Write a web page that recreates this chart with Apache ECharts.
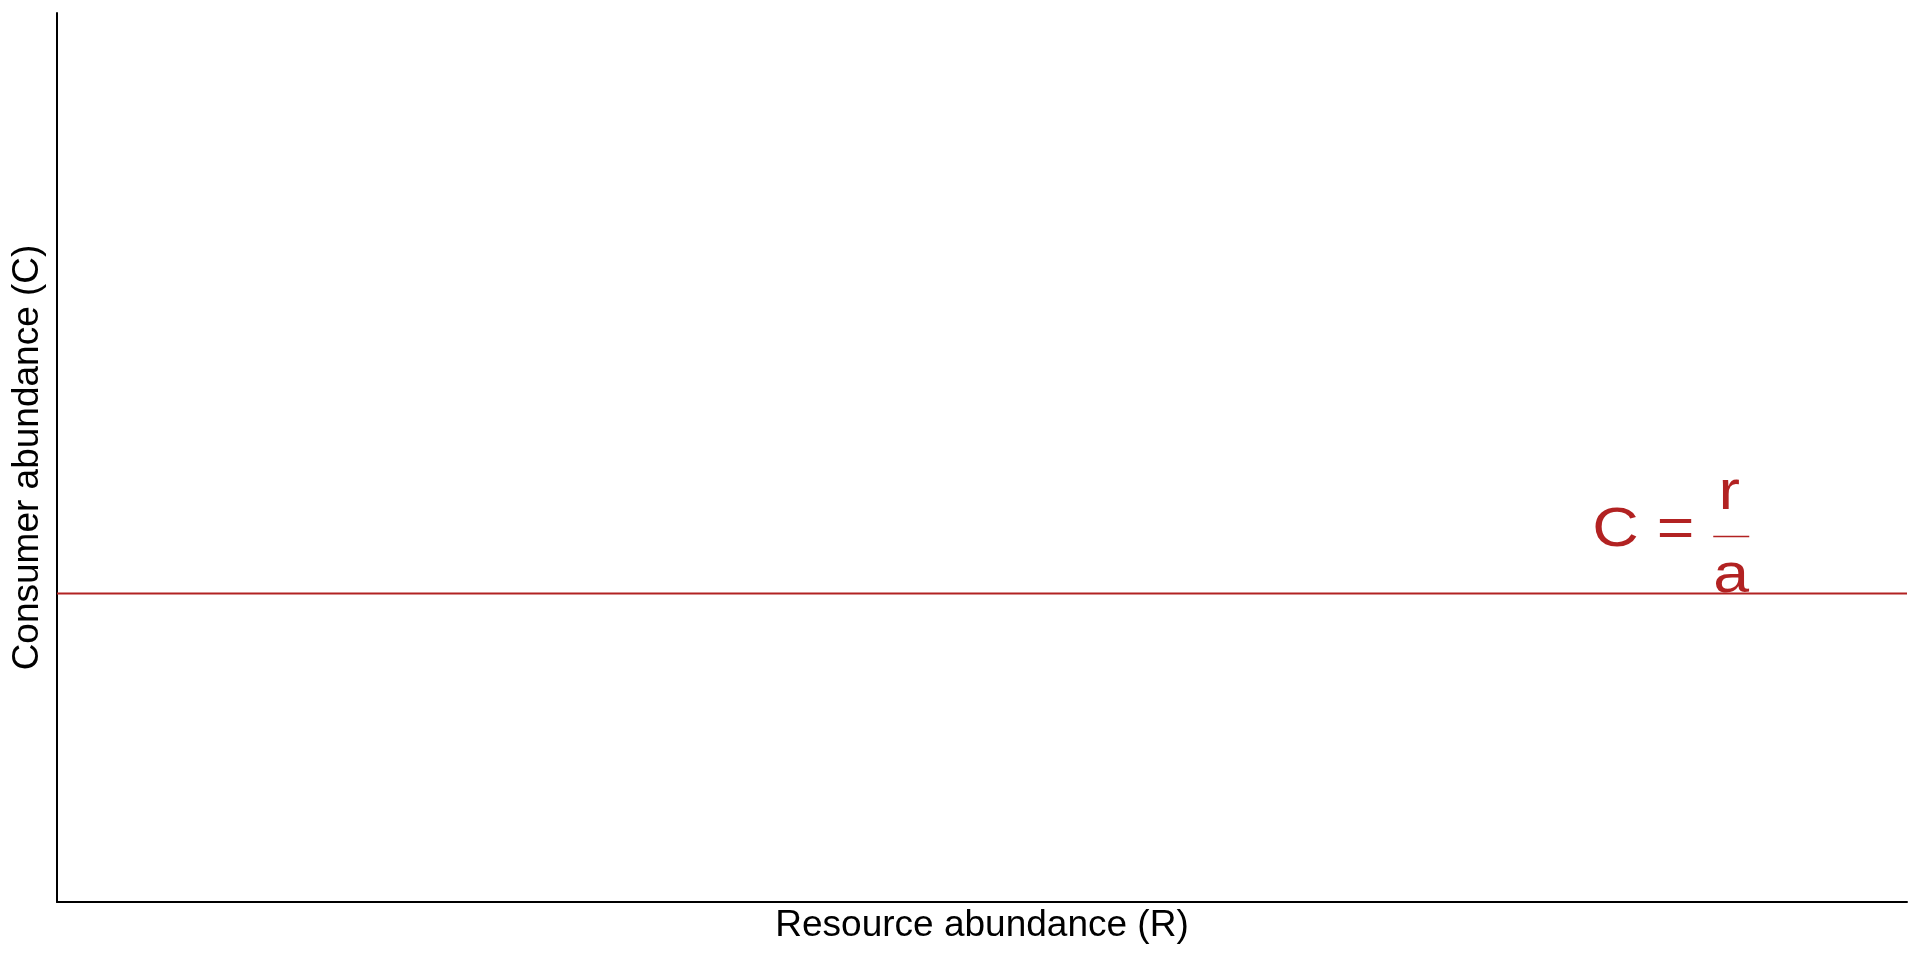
<!DOCTYPE html>
<html>
<head>
<meta charset="utf-8">
<script src="https://cdn.jsdelivr.net/npm/echarts@6/dist/echarts.min.js"></script>
<style>
html,body{margin:0;padding:0;background:#fff;}
#main{width:1920px;height:960px;}
</style>
</head>
<body>
<div id="main"></div>
<script>
// ---- data ----
const resourceExtent = [0, 1];          // R axis range (conceptual, no ticks)
const consumerExtent = [0, 1];          // C axis range (conceptual, no ticks)
const isoclineR = [0, 1];               // R values of the consumer isocline
const isoclineC = [0.347, 0.347];       // C = r/a (horizontal isocline)
const labelR = [0.905];                 // R position of the "C = r/a" label
const axisNames = ['Resource abundance (R)', 'Consumer abundance (C)'];
const labelParts = ['C =', 'r', 'a'];

const RED = '#B22222';
const FONT = '"Liberation Sans", Arial, Helvetica, sans-serif';

const chart = echarts.init(document.getElementById('main'), null, {renderer: 'canvas'});

const option = {
  animation: false,
  backgroundColor: '#ffffff',
  grid: {left: 57, right: 13, top: 13, bottom: 58, containLabel: false},
  xAxis: {
    type: 'value',
    min: resourceExtent[0], max: resourceExtent[1],
    name: axisNames[0],
    nameLocation: 'middle',
    nameGap: 5,
    nameTextStyle: {fontSize: 37, color: '#000', fontFamily: FONT, verticalAlign: 'top'},
    axisLine: {show: true, onZero: false, lineStyle: {color: '#000', width: 2}},
    axisTick: {show: false},
    axisLabel: {show: false},
    splitLine: {show: false}
  },
  yAxis: {
    type: 'value',
    min: consumerExtent[0], max: consumerExtent[1],
    name: axisNames[1],
    nameLocation: 'middle',
    nameGap: 11,
    nameTextStyle: {fontSize: 37, color: '#000', fontFamily: FONT},
    axisLine: {show: true, onZero: false, lineStyle: {color: '#000', width: 2}},
    axisTick: {show: false},
    axisLabel: {show: false},
    splitLine: {show: false}
  },
  series: [{
    type: 'line',
    data: isoclineR.map((r, i) => [r, isoclineC[i]]),
    showSymbol: false,
    symbol: 'none',
    clip: false,
    lineStyle: {color: RED, width: 2},
    z: 3
  }]
};
chart.setOption(option);

// label anchored at data coordinates of the isocline
const anchor = chart.convertToPixel({gridIndex: 0}, [labelR[0], isoclineC[0]]);
const ax = anchor[0], ay = anchor[1];
const sx = 1.15;
chart.setOption({
  graphic: [
    {type: 'text', x: ax - 88, y: ay - 63, scaleX: sx,
     style: {text: labelParts[0], fill: RED, font: '56px ' + FONT, align: 'center', verticalAlign: 'middle'}},
    {type: 'text', x: ax - 2, y: ay - 100, scaleX: sx,
     style: {text: labelParts[1], fill: RED, font: '56px ' + FONT, align: 'center', verticalAlign: 'middle'}},
    {type: 'line', shape: {x1: ax - 18, y1: ay - 57, x2: ax + 18, y2: ay - 57},
     style: {stroke: RED, lineWidth: 1.5}},
    {type: 'text', x: ax, y: ay - 17, scaleX: sx,
     style: {text: labelParts[2], fill: RED, font: '56px ' + FONT, align: 'center', verticalAlign: 'middle'}}
  ]
});
</script>
</body>
</html>
